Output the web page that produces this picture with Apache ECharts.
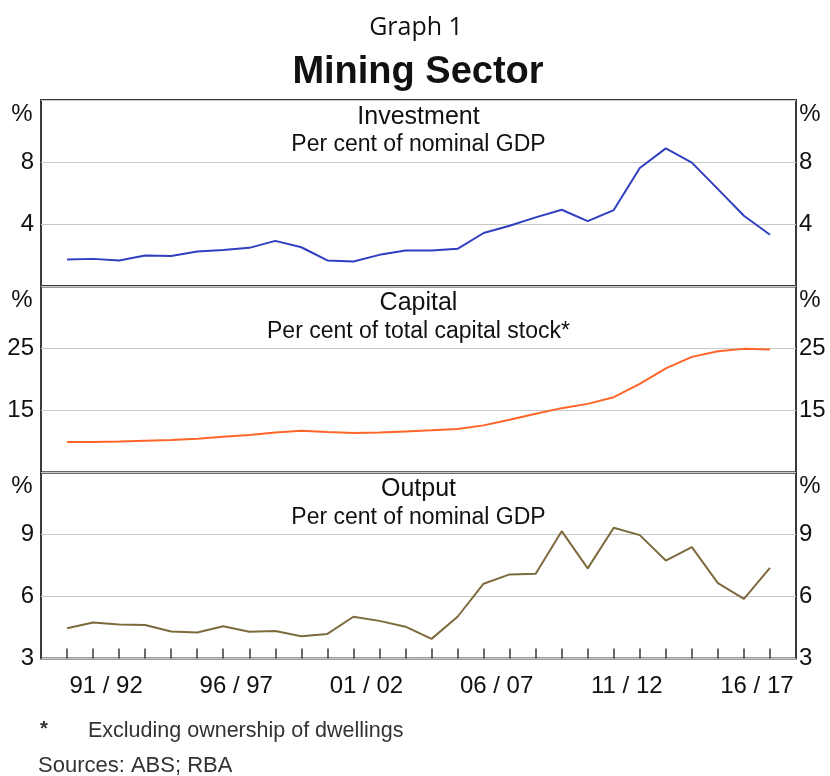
<!DOCTYPE html>
<html>
<head>
<meta charset="utf-8">
<script src="https://cdn.jsdelivr.net/npm/echarts@6/dist/echarts.min.js"></script>
<style>
  html, body { margin: 0; padding: 0; background: #fff; }
  #chart { width: 830px; height: 776px; }
</style>
</head>
<body>
<div id="chart"></div>
<script>
// x position of each point = end of the financial year (June)
const yearEnd = [1990, 1991, 1992, 1993, 1994, 1995, 1996, 1997, 1998, 1999,
  2000, 2001, 2002, 2003, 2004, 2005, 2006, 2007, 2008, 2009,
  2010, 2011, 2012, 2013, 2014, 2015, 2016, 2017]

// labels drawn in the middle of their financial year
const tickLabels = ['91/92', '96/97', '01/02', '06/07', '11/12', '16/17']

// mining investment, per cent of nominal GDP
const investment = [1.71, 1.75, 1.65, 1.97, 1.93, 2.22, 2.33, 2.46, 2.91, 2.5,
  1.65, 1.58, 2.01, 2.29, 2.29, 2.4, 3.42, 3.89, 4.43, 4.92,
  4.19, 4.9, 7.61, 8.88, 7.96, 6.25, 4.53, 3.31]

// mining capital, per cent of total capital stock
const capital = [9.93, 9.93, 9.98, 10.14, 10.25, 10.46, 10.78, 11.05, 11.47, 11.75,
  11.54, 11.38, 11.47, 11.63, 11.8, 12.02, 12.6, 13.5, 14.47, 15.38,
  16.07, 17.14, 19.28, 21.79, 23.65, 24.57, 24.94, 24.84]

// mining output, per cent of nominal GDP
const output = [4.46, 4.74, 4.64, 4.62, 4.31, 4.26, 4.56, 4.29, 4.33, 4.08,
  4.19, 5.02, 4.82, 4.54, 3.95, 5.02, 6.62, 7.07, 7.1, 9.16,
  7.36, 9.33, 8.97, 7.74, 8.39, 6.65, 5.89, 7.39]

const FONT = 'Liberation Sans, Arial, sans-serif'
const frameColor = '#3a3a3a'

// panel setup
const panels = [
  { min: 0, max: 12, interval: 4, show: [4, 8], top: 100, title: 'Investment', sub: 'Per cent of nominal GDP' },
  { min: 5, max: 35, interval: 10, show: [15, 25], top: 286.5, title: 'Capital', sub: 'Per cent of total capital stock*' },
  { min: 3, max: 12, interval: 3, show: [3, 6, 9], top: 472.5, title: 'Output', sub: 'Per cent of nominal GDP' }
]
const panelH = 186

function pad2(n) {
  return String(n % 100).padStart(2, '0')
}

let myChart = echarts.init(document.getElementById('chart'))

let grids = []
let xAxes = []
let yAxes = []
let graphics = []

panels.forEach((p, i) => {
  grids.push({
    left: 41, right: 34, top: p.top, height: panelH,
    show: true, borderColor: frameColor, borderWidth: 2, backgroundColor: 'transparent'
  })
  // data axis
  xAxes.push({
    type: 'value', gridIndex: i, position: 'bottom', min: 1989, max: 2018, interval: 1,
    axisLine: { show: false },
    axisTick: {
      show: i === 2, inside: true, length: 10,
      lineStyle: { color: frameColor, width: 1.5 }
    },
    axisLabel: { show: false },
    splitLine: { show: false }
  })
  const labelFmt = (v) => p.show.indexOf(v) >= 0 ? String(v) : ''
  yAxes.push({
    type: 'value', gridIndex: i, position: 'left',
    min: p.min, max: p.max, interval: p.interval,
    axisLine: { show: false }, axisTick: { show: false },
    axisLabel: { formatter: labelFmt, color: '#111', fontFamily: FONT, fontSize: 24, margin: 7 },
    splitLine: { lineStyle: { color: '#c8c8c8', width: 1 } }
  })
  yAxes.push({
    type: 'value', gridIndex: i, position: 'right',
    min: p.min, max: p.max, interval: p.interval,
    axisLine: { show: false }, axisTick: { show: false },
    axisLabel: { formatter: labelFmt, color: '#111', fontFamily: FONT, fontSize: 24, margin: 3 },
    splitLine: { show: false }
  })
  // panel titles
  graphics.push({
    type: 'text', x: 418.5, y: p.top + 17,
    style: { text: p.title, fill: '#111', font: '25px ' + FONT, align: 'center', verticalAlign: 'middle' }
  })
  graphics.push({
    type: 'text', x: 418.5, y: p.top + 45,
    style: { text: p.sub, fill: '#111', font: '23px ' + FONT, align: 'center', verticalAlign: 'middle' }
  })
  // % units
  graphics.push({
    type: 'text', x: 22, y: p.top + 14,
    style: { text: '%', fill: '#111', font: '24px ' + FONT, align: 'center', verticalAlign: 'middle' }
  })
  graphics.push({
    type: 'text', x: 810, y: p.top + 14,
    style: { text: '%', fill: '#111', font: '24px ' + FONT, align: 'center', verticalAlign: 'middle' }
  })
})

// label axis for the bottom panel: labels sit half-way between ticks
xAxes.push({
  type: 'value', gridIndex: 2, position: 'bottom', min: 1989, max: 2018, interval: 0.5,
  axisLine: { show: false }, axisTick: { show: false }, splitLine: { show: false },
  axisLabel: {
    color: '#111', fontFamily: FONT, fontSize: 24, margin: 16,
    showMinLabel: true, showMaxLabel: true,
    formatter: (v) => {
      if (Number.isInteger(v)) return ''
      const lab = pad2(Math.floor(v)) + '/' + pad2(Math.ceil(v))
      return tickLabels.indexOf(lab) >= 0 ? lab.replace('/', ' / ') : ''
    }
  }
})

graphics.push({
  type: 'text', x: 416, y: 28,
  style: { text: 'Graph 1', fill: '#111', font: '25px "Open Sans", sans-serif', align: 'center', verticalAlign: 'middle' }
})
graphics.push({
  type: 'text', x: 418, y: 73,
  style: { text: 'Mining Sector', fill: '#111', font: 'bold 38px ' + FONT, align: 'center', verticalAlign: 'middle' }
})
graphics.push({
  type: 'text', x: 40, y: 729,
  style: { text: '*', fill: '#333', font: 'bold 20px ' + FONT, align: 'left', verticalAlign: 'middle' }
})
graphics.push({
  type: 'text', x: 88, y: 731,
  style: { text: 'Excluding ownership of dwellings', fill: '#333', font: '21.5px ' + FONT, align: 'left', verticalAlign: 'middle' }
})
graphics.push({
  type: 'text', x: 38, y: 766,
  style: { text: 'Sources: ABS; RBA', fill: '#333', font: '22px ' + FONT, align: 'left', verticalAlign: 'middle' }
})

function line(name, values, color, idx) {
  return {
    name: name, type: 'line', xAxisIndex: idx, yAxisIndex: idx * 2,
    data: yearEnd.map((y, k) => [y, values[k]]),
    symbol: 'none', silent: true,
    lineStyle: { color: color, width: 2 }
  }
}

myChart.setOption({
  animation: false,
  grid: grids,
  xAxis: xAxes,
  yAxis: yAxes,
  graphic: graphics,
  series: [
    line('Investment', investment, '#2f3fc0', 0),
    line('Capital', capital, '#ff6528', 1),
    line('Output', output, '#7d6b3e', 2)
  ]
})
</script>
</body>
</html>
